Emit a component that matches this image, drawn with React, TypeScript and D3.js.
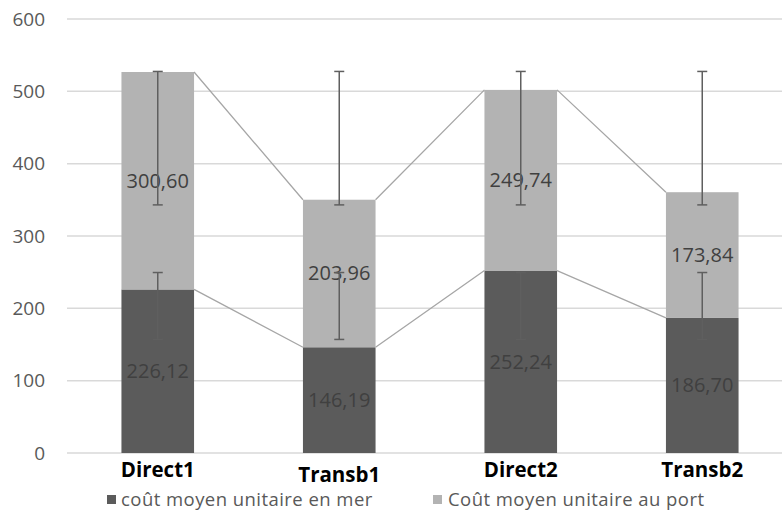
import React from "react";
import * as d3 from "d3";

const categories = ["Direct1", "Transb1", "Direct2", "Transb2"];
const merValues = [226.12, 146.19, 252.24, 186.7];
const portValues = [300.6, 203.96, 249.74, 173.84];
const merErrLow = [157, 157, 157, 157];
const merErrHigh = [249.5, 249.5, 249.5, 249.5];
const portErrLow = [343, 343, 343, 343];
const portErrHigh = [527.5, 527.5, 527.5, 527.5];
const yTicks = [0, 100, 200, 300, 400, 500, 600];
const seriesNames = ["coût moyen unitaire en mer", "Coût moyen unitaire au port"];

const W = 782;
const H = 513;
const DARK = "#5b5b5b";
const LIGHT = "#b3b3b3";
const FONT = "'Open Sans', 'Noto Sans', sans-serif";

const fmt = (v: number) => d3.format(".2f")(v).replace(".", ",");

export default function App() {
  const x = d3
    .scaleBand<string>()
    .domain(categories)
    .range([67, 793])
    .paddingInner(0.6)
    .paddingOuter(0.3);
  const y = d3.scaleLinear().domain([0, 600]).range([453, 19]);
  const bw = x.bandwidth();

  const totals = categories.map((_, i) => merValues[i] + portValues[i]);

  const seriesLine = (vals: number[]) => {
    const segs: string[] = [];
    for (let i = 0; i < vals.length - 1; i++) {
      const x1 = (x(categories[i]) as number) + bw;
      const x2 = x(categories[i + 1]) as number;
      segs.push(`M${x1},${y(vals[i])}L${x2},${y(vals[i + 1])}`);
    }
    return segs.join("");
  };

  const errBar = (cx: number, lo: number, hi: number, key: string) => (
    <g key={key} stroke="#5f5f5f" strokeWidth={1.5}>
      <line x1={cx} x2={cx} y1={y(lo)} y2={y(hi)} />
      <line x1={cx - 5} x2={cx + 5} y1={y(lo)} y2={y(lo)} />
      <line x1={cx - 5} x2={cx + 5} y1={y(hi)} y2={y(hi)} />
    </g>
  );

  return (
    <svg
      width={W}
      height={H}
      style={{ position: "absolute", left: 0, top: 0, background: "#fff" }}
      fontFamily={FONT}
    >
      {/* gridlines */}
      {yTicks.map((t) => (
        <line key={"g" + t} x1={67} x2={W} y1={y(t)} y2={y(t)} stroke="#d9d9d9" strokeWidth={1.5} />
      ))}
      {yTicks.map((t) => (
        <text key={"t" + t} x={45} y={y(t)} dy="0.35em" textAnchor="end" fontSize={19} fill="#595959">
          {t}
        </text>
      ))}

      {/* bars */}
      {categories.map((c, i) => (
        <g key={"b" + c}>
          <rect x={x(c)} width={bw} y={y(merValues[i])} height={y(0) - y(merValues[i])} fill={DARK} />
          <rect x={x(c)} width={bw} y={y(totals[i])} height={y(merValues[i]) - y(totals[i])} fill={LIGHT} />
        </g>
      ))}

      {/* series lines */}
      <path d={seriesLine(merValues)} stroke="#a6a6a6" strokeWidth={1.3} fill="none" />
      <path d={seriesLine(totals)} stroke="#a6a6a6" strokeWidth={1.3} fill="none" />

      {/* data labels */}
      {categories.map((c, i) => {
        const cx = (x(c) as number) + bw / 2;
        return (
          <g key={"l" + c} fontSize={20} fill="#404040" textAnchor="middle">
            <text x={cx} y={y(merValues[i] / 2)} dy="0.35em">
              {fmt(merValues[i])}
            </text>
            <text x={cx} y={y(merValues[i] + portValues[i] / 2)} dy="0.35em">
              {fmt(portValues[i])}
            </text>
          </g>
        );
      })}

      {/* error bars */}
      {categories.map((c, i) => {
        const cx = (x(c) as number) + bw / 2;
        return (
          <g key={"e" + c}>
            {errBar(cx, merErrLow[i], merErrHigh[i], "m")}
            {errBar(cx, portErrLow[i], portErrHigh[i], "p")}
          </g>
        );
      })}

      {/* category labels */}
      {categories.map((c, i) => (
        <text
          key={"c" + c}
          x={(x(c) as number) + bw / 2}
          y={i === 1 ? 475 : 470}
          dy="0.35em"
          textAnchor="middle"
          fontSize={20.5}
          fontWeight="bold"
          fill="#000"
        >
          {c}
        </text>
      ))}

      {/* legend */}
      <rect x={107} y={495} width={9} height={9} fill={DARK} />
      <text x={121} y={499.5} dy="0.35em" fontSize={18.5} letterSpacing={0.45} fill="#595959">
        {seriesNames[0]}
      </text>
      <rect x={433} y={495} width={9} height={9} fill={LIGHT} />
      <text x={448} y={499.5} dy="0.35em" fontSize={18.5} letterSpacing={0.45} fill="#595959">
        {seriesNames[1]}
      </text>
    </svg>
  );
}
